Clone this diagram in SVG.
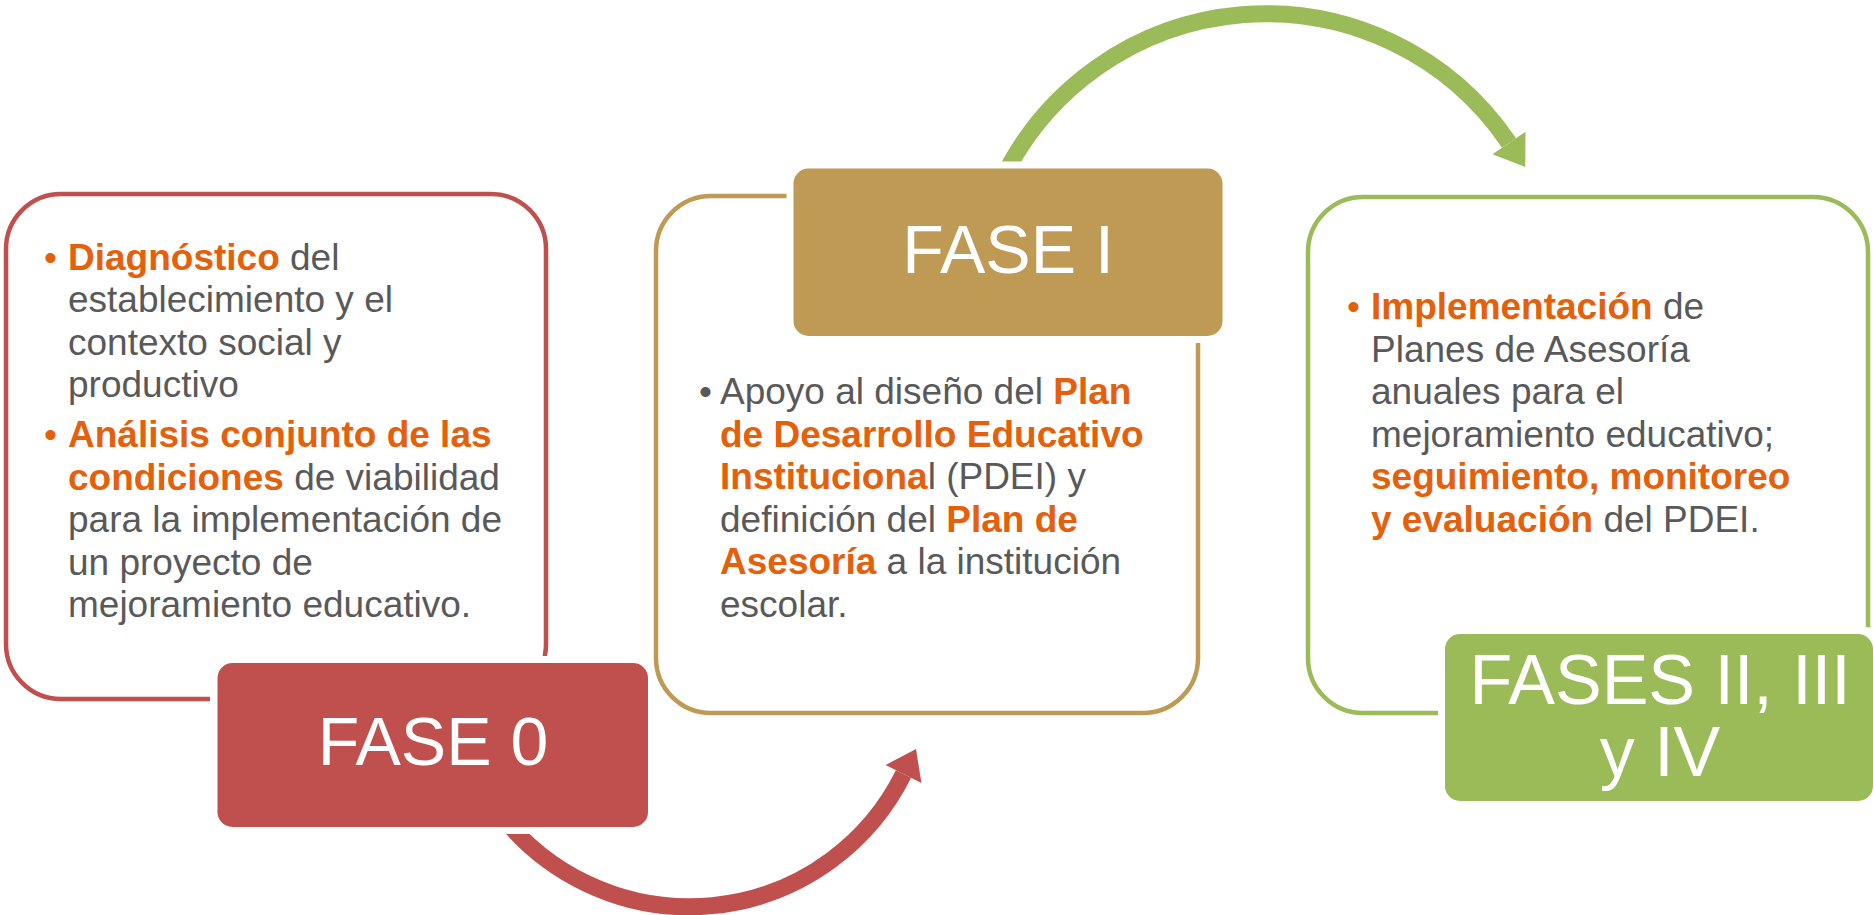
<svg xmlns="http://www.w3.org/2000/svg" width="1874" height="915" viewBox="0 0 1874 915">
<style>
  .t { font-family: "Liberation Sans", Arial, sans-serif; font-size: 37px; fill: #595959; }
  .b { font-weight: bold; fill: #E5600B; }
  .o { fill: #E5600B; }
  .h { font-family: "Liberation Sans", Arial, sans-serif; fill: #FFFFFF; text-anchor: middle; }
  .gap { fill: #FFFFFF; }
</style>
<rect width="1874" height="915" fill="#FFFFFF"/>
<g id="connectors">
  <path d="M 499.7 813.1 A 239 239 0 0 0 903.5 774" fill="none" stroke="#C0504D" stroke-width="17"/>
  <polygon points="916,749 921.4,783 885.6,765" fill="#C0504D"/>
  <path d="M 999.5 185.2 A 293 293 0 0 1 1509 143" fill="none" stroke="#9BBB59" stroke-width="17"/>
  <polygon points="1525.3,167 1525.5,131.7 1492.5,154.3" fill="#9BBB59"/>
</g>
<g id="fase0">
  <rect x="6" y="194" width="540" height="505" rx="55" fill="none" stroke="#C0504D" stroke-width="4.5"/>
  <rect x="210" y="656" width="445" height="178" rx="20" class="gap"/>
  <rect x="217.5" y="663" width="430.5" height="164" rx="15" fill="#C0504D"/>
  <text class="h" x="433" y="765" font-size="68">FASE 0</text>
  <text class="t"><tspan class="o" x="44" y="269.5">•</tspan><tspan x="68" y="269.5"><tspan class="b">Diagnóstico</tspan> del</tspan><tspan x="68" y="312">establecimiento y el</tspan><tspan x="68" y="354.5">contexto social y</tspan><tspan x="68" y="397">productivo</tspan><tspan class="o" x="44" y="447">•</tspan><tspan x="68" y="447" class="b">Análisis conjunto de las</tspan><tspan x="68" y="489.5"><tspan class="b">condiciones</tspan> de viabilidad</tspan><tspan x="68" y="532">para la implementación de</tspan><tspan x="68" y="574.5">un proyecto de</tspan><tspan x="68" y="617">mejoramiento educativo.</tspan></text>
</g>
<g id="fase1">
  <rect x="656" y="196" width="542" height="517" rx="55" fill="none" stroke="#BE9A55" stroke-width="4.5"/>
  <rect x="786.5" y="161.5" width="443" height="181.5" rx="22" class="gap"/>
  <rect x="793.5" y="168.5" width="429" height="167.5" rx="15" fill="#BE9A55"/>
  <text class="h" x="1008" y="273" font-size="68">FASE I</text>
  <text class="t"><tspan x="699" y="404">•</tspan><tspan x="720" y="404">Apoyo al diseño del <tspan class="b">Plan</tspan></tspan><tspan x="720" y="446.5" class="b">de Desarrollo Educativo</tspan><tspan x="720" y="489"><tspan class="b">Instituciona</tspan>l (PDEI) y</tspan><tspan x="720" y="531.5">definición del <tspan class="b">Plan de</tspan></tspan><tspan x="720" y="574"><tspan class="b">Asesoría</tspan> a la institución</tspan><tspan x="720" y="616.5">escolar.</tspan></text>
</g>
<g id="fases234">
  <rect x="1308" y="197" width="560" height="516" rx="55" fill="none" stroke="#9BBB59" stroke-width="4.5"/>
  <rect x="1438" y="627" width="450" height="181" rx="22" class="gap"/>
  <rect x="1445" y="634" width="428" height="167" rx="15" fill="#9BBB59"/>
  <text class="h" font-size="70"><tspan x="1660" y="704">FASES II, III</tspan><tspan x="1660" y="776">y IV</tspan></text>
  <text class="t"><tspan class="o" x="1347" y="319">•</tspan><tspan x="1371" y="319"><tspan class="b">Implementación</tspan> de</tspan><tspan x="1371" y="361.5">Planes de Asesoría</tspan><tspan x="1371" y="404">anuales para el</tspan><tspan x="1371" y="446.5">mejoramiento educativo;</tspan><tspan x="1371" y="489" class="b">seguimiento, monitoreo</tspan><tspan x="1371" y="531.5"><tspan class="b">y evaluación</tspan> del PDEI.</tspan></text>
</g>
</svg>
